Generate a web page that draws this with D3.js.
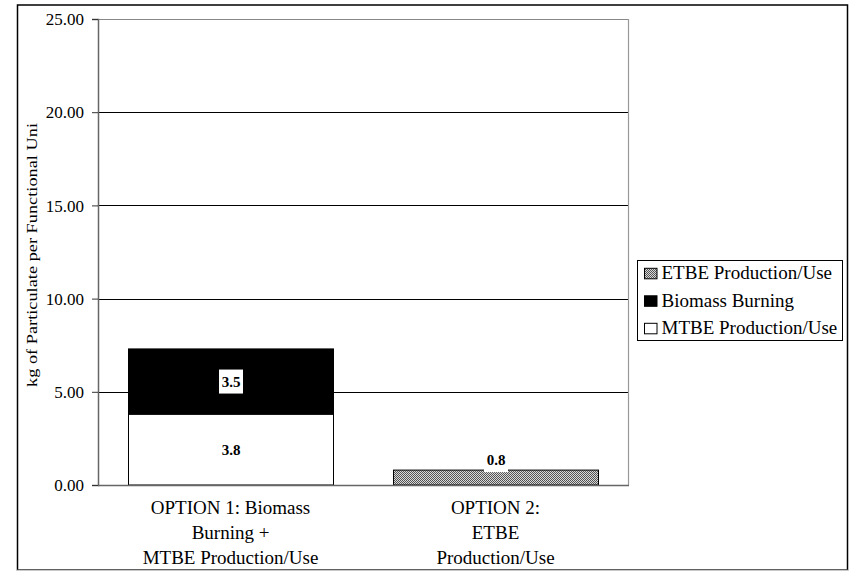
<!DOCTYPE html>
<html>
<head>
<meta charset="utf-8">
<script src="https://cdn.jsdelivr.net/npm/d3@7"></script>
<style>
  html, body { margin: 0; padding: 0; background: #fff; }
  svg text { font-family: "Liberation Serif", "Times New Roman", Times, "Tinos", "DejaVu Serif", serif; }
</style>
</head>
<body>
<svg id="chart" width="852" height="571"></svg>
<script>
// Particulate emissions per functional unit, two fuel options
const categories = [
  ["OPTION 1: Biomass", "Burning +", "MTBE Production/Use"],
  ["OPTION 2:", "ETBE", "Production/Use"]
];
const seriesNames = ["MTBE Production/Use", "Biomass Burning", "ETBE Production/Use"];
const mtbeValues    = [3.8, 0];
const biomassValues = [3.5, 0];
const etbeValues    = [0, 0.8];
const yTicks = [0, 5, 10, 15, 20, 25];
const yLabel = "kg of Particulate per Functional Uni";

const svg = d3.select("#chart");
const plot = { left: 98, right: 628, top: 19, bottom: 485 };

// fine dither pattern for ETBE fill
const defs = svg.append("defs");
const pat = defs.append("pattern").attr("id", "dither")
  .attr("width", 2).attr("height", 2).attr("patternUnits", "userSpaceOnUse");
pat.append("rect").attr("width", 2).attr("height", 2).attr("fill", "#d8d8d8");
pat.append("rect").attr("x", 0).attr("y", 0).attr("width", 1).attr("height", 1).attr("fill", "#555");
pat.append("rect").attr("x", 1).attr("y", 1).attr("width", 1).attr("height", 1).attr("fill", "#555");

const fills = {
  "MTBE Production/Use": "#ffffff",
  "Biomass Burning": "#000000",
  "ETBE Production/Use": "url(#dither)"
};

// outer frame
svg.append("rect").attr("x", 17.5).attr("y", 5).attr("width", 830).attr("height", 565)
  .attr("fill", "none").attr("stroke", "#000").attr("stroke-width", 1.5);
svg.append("line").attr("x1", 17).attr("x2", 848).attr("y1", 570.5).attr("y2", 570.5)
  .attr("stroke", "#c8c8c8").attr("stroke-width", 1.5);

const y = d3.scaleLinear().domain([0, 25]).range([plot.bottom, plot.top]);
const x = d3.scaleBand().domain(d3.range(categories.length))
  .range([plot.left, plot.right]).paddingInner(0.2264).paddingOuter(0.1132);

// gridlines
svg.append("g").selectAll("line").data(yTicks.filter(t => t > 0)).join("line")
  .attr("x1", plot.left).attr("x2", plot.right)
  .attr("y1", d => Math.round(y(d)) + 0.5).attr("y2", d => Math.round(y(d)) + 0.5)
  .attr("stroke", d => d === 25 ? "#888" : "#000").attr("stroke-width", 1);

// right edge of plot area
svg.append("line").attr("x1", plot.right + 0.5).attr("x2", plot.right + 0.5)
  .attr("y1", plot.top).attr("y2", plot.bottom).attr("stroke", "#999").attr("stroke-width", 1.2);

// stacked bars
const rows = categories.map((c, i) => ({
  i,
  "MTBE Production/Use": mtbeValues[i],
  "Biomass Burning": biomassValues[i],
  "ETBE Production/Use": etbeValues[i]
}));
const stack = d3.stack().keys(seriesNames)(rows);

stack.forEach(layer => {
  svg.append("g").selectAll("rect").data(layer.filter(d => d[1] - d[0] > 0)).join("rect")
    .attr("x", d => x(d.data.i) + 0.5)
    .attr("width", x.bandwidth())
    .attr("y", d => y(d[1]))
    .attr("height", d => y(d[0]) - y(d[1]))
    .attr("fill", fills[layer.key])
    .attr("stroke", "#000").attr("stroke-width", 1);
});

// value labels (white box behind each)
const labels = [];
stack.forEach(layer => {
  layer.forEach(d => {
    const v = d[1] - d[0];
    if (v > 0) labels.push({ key: layer.key, i: d.data.i, v, y0: d[0], y1: d[1] });
  });
});
labels.forEach(l => {
  const cx = x(l.i) + x.bandwidth() / 2 + 0.5;
  const segH = y(l.y0) - y(l.y1);
  const cy = segH < 20 ? y(l.y1) - 10 : (y(l.y0) + y(l.y1)) / 2;
  const g = svg.append("g");
  g.append("rect").attr("x", cx - 12).attr("y", cy - 12).attr("width", 24).attr("height", 24)
    .attr("fill", "#fff");
  g.append("text").attr("x", cx).attr("y", cy + 5.3).attr("text-anchor", "middle")
    .attr("font-size", 15).attr("font-weight", "bold").text(l.v.toFixed(1));
});

// axes
const yAxis = svg.append("g").attr("transform", `translate(${plot.left},0)`)
  .call(d3.axisLeft(y).tickValues(yTicks).tickFormat(d3.format(".2f")).tickSizeOuter(0).tickSize(6).tickPadding(8));
yAxis.attr("font-family", null);
yAxis.select(".domain").attr("stroke", "#666").attr("stroke-width", 1.5);
yAxis.selectAll(".tick line").attr("stroke", "#333");
yAxis.selectAll(".tick text").attr("font-size", 17).attr("fill", "#000").attr("dy", "0.34em");

svg.append("line").attr("x1", plot.left).attr("x2", plot.right + 1)
  .attr("y1", plot.bottom + 0.5).attr("y2", plot.bottom + 0.5)
  .attr("stroke", "#666").attr("stroke-width", 1.5);

// category labels
categories.forEach((lines, i) => {
  const cx = x(i) + x.bandwidth() / 2;
  svg.append("text").attr("x", cx).attr("y", 513.5).attr("text-anchor", "middle")
    .attr("font-size", 19)
    .selectAll("tspan").data(lines).join("tspan")
    .attr("x", cx).attr("dy", (d, k) => k === 0 ? 0 : 25).text(d => d);
});

// y-axis title
svg.append("text").attr("transform", "translate(37,255) rotate(-90)")
  .attr("text-anchor", "middle").attr("font-size", 14.5)
  .attr("textLength", 264).attr("lengthAdjust", "spacingAndGlyphs").text(yLabel);

// legend
const legend = svg.append("g");
legend.append("rect").attr("x", 637.5).attr("y", 260.5).attr("width", 205).attr("height", 80)
  .attr("fill", "#fff").attr("stroke", "#000").attr("stroke-width", 1);
const legendOrder = ["ETBE Production/Use", "Biomass Burning", "MTBE Production/Use"];
legendOrder.forEach((name, k) => {
  const base = 279.3 + k * 27.5;
  legend.append("rect").attr("x", 644.5).attr("y", base - 11).attr("width", 12.5).attr("height", 10.5)
    .attr("fill", fills[name]).attr("stroke", "#000").attr("stroke-width", 1);
  legend.append("text").attr("x", 661.5).attr("y", base).attr("font-size", 19).text(name);
});
</script>
</body>
</html>
